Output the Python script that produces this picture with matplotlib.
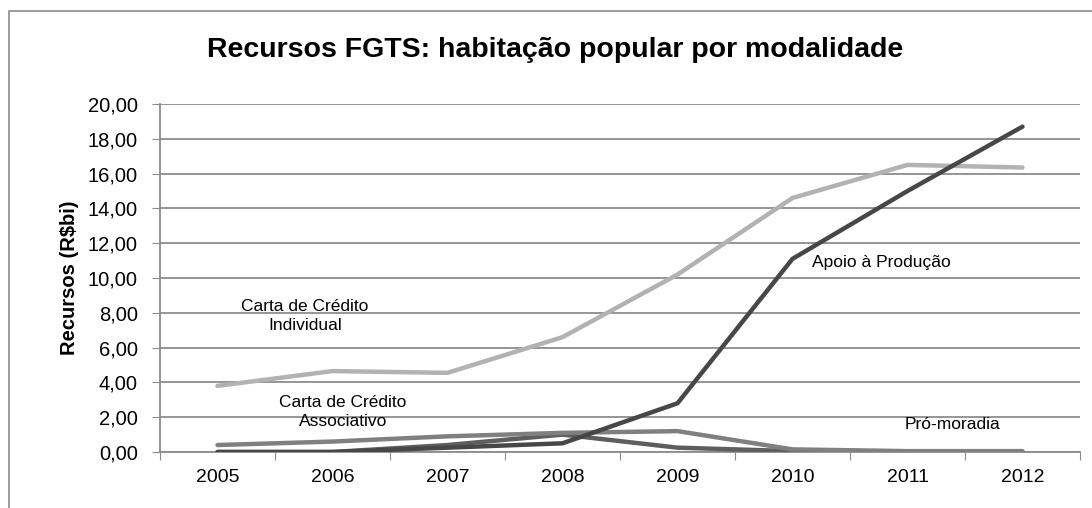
import matplotlib

matplotlib.use("Agg")
import matplotlib.pyplot as plt
from matplotlib.patches import Rectangle

plt.rcParams["font.family"] = ["Liberation Sans", "DejaVu Sans"]

anos = ["2005", "2006", "2007", "2008", "2009", "2010", "2011", "2012"]
individual = [3.80, 4.65, 4.55, 6.60, 10.20, 14.60, 16.50, 16.35]
apoio = [0.00, 0.00, 0.25, 0.50, 2.80, 11.10, 15.00, 18.70]
associativo = [0.40, 0.60, 0.90, 1.10, 1.20, 0.15, 0.05, 0.05]
promoradia = [0.00, 0.00, 0.40, 1.00, 0.25, 0.05, 0.00, 0.00]
yticks = [0, 2, 4, 6, 8, 10, 12, 14, 16, 18, 20]

fig = plt.figure(figsize=(10.92, 5.08), dpi=100)
fig.patches.append(Rectangle((9 / 1092, -0.1), 1.2, 1.1 - 11 / 508, transform=fig.transFigure,
                             fill=False, ec="#8c8c8c", lw=1.2))
ax = fig.add_axes([160 / 1092, 1 - 452 / 508, 920 / 1092, 348 / 508])

x = range(len(anos))
ax.plot(x, promoradia, color="#5e5e5e", lw=3.2, solid_capstyle="round", zorder=3)
ax.plot(x, associativo, color="#808080", lw=3.2, solid_capstyle="round", zorder=3)
ax.plot(x, individual, color="#b2b2b2", lw=3.2, solid_capstyle="round", zorder=3)
ax.plot(x, apoio, color="#474747", lw=3.2, solid_capstyle="round", zorder=4)

ax.set_xlim(-0.5, len(anos) - 0.5)
ax.set_ylim(0, 20)
ax.set_yticks(yticks)
ax.set_yticklabels([f"{v:.2f}".replace(".", ",") for v in yticks], fontsize=14.5)
ax.set_xticks([i - 0.5 for i in range(len(anos) + 1)])
ax.set_xticklabels([])
ax.set_xticks(list(x), minor=True)
ax.set_xticklabels(anos, minor=True, fontsize=14)
ax.tick_params(axis="x", which="minor", length=0, pad=12)
ax.tick_params(axis="x", which="major", length=6, color="#8c8c8c", direction="out")
ax.tick_params(axis="y", length=6, color="#8c8c8c", pad=10)
ax.yaxis.grid(True, color="#8c8c8c", lw=1.3)
ax.set_axisbelow(True)
for s in ["top", "right"]:
    ax.spines[s].set_visible(False)
for s in ["left", "bottom"]:
    ax.spines[s].set_color("#8c8c8c")
    ax.spines[s].set_linewidth(1.3)

ax.set_ylabel("Recursos (R$bi)", fontsize=14.5, fontweight="bold", labelpad=6)
fig.text(0.508, 1 - 50 / 508, "Recursos FGTS: habitação popular por modalidade",
         ha="center", va="center", fontsize=20.5, fontweight="bold")

ax.text(0.76, 7.8, "Carta de Crédito\nIndividual", ha="center", va="center", fontsize=12.5, linespacing=1.3)
ax.text(1.09, 2.3, "Carta de Crédito\nAssociativo", ha="center", va="center", fontsize=12.5, linespacing=1.3)
ax.text(5.17, 10.9, "Apoio à Produção", ha="left", va="center", fontsize=12.5)
ax.text(6.39, 1.6, "Pró-moradia", ha="center", va="center", fontsize=12.5)

fig.savefig("out.png", dpi=100)
